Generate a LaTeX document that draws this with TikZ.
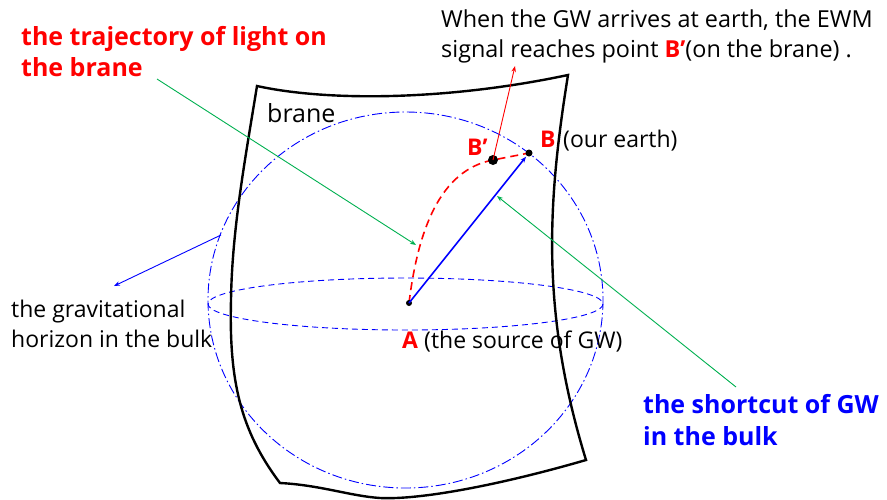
\documentclass[tikz,border=0pt]{standalone}
\usepackage{fontspec}
\setmainfont{Open Sans}
\usetikzlibrary{arrows.meta}
\definecolor{pgreen}{RGB}{0,176,80}
\definecolor{pblue}{RGB}{0,0,255}
\definecolor{pred}{RGB}{255,0,0}
\tikzset{
  txt/.style={inner sep=0pt, anchor=base west, font=\fontsize{23}{30}\selectfont},
  redtitle/.style={inner sep=0pt, anchor=base west, align=left, text=pred, font=\fontsize{25}{31}\selectfont\bfseries},
  bluetitle/.style={inner sep=0pt, anchor=base west, align=left, text=pblue, font=\fontsize{25}{32}\selectfont\bfseries},
  lbl/.style={inner sep=0pt, anchor=base west, text=pred, font=\fontsize{23}{30}\selectfont\bfseries},
  tip/.style={-{Stealth[length=6pt,width=4.5pt]}},
  dot/.style={circle, fill=black, inner sep=0pt, minimum size=#1},
}
\begin{document}
\begin{tikzpicture}[x=1pt,y=-1pt]
\useasboundingbox (0,0) rectangle (887,499);
% horizon sphere
\draw[pblue, line width=0.9pt, dash pattern=on 10pt off 3pt on 1.5pt off 3pt] (405.5,300) ellipse [x radius=197.5, y radius=188];
\draw[pblue, line width=0.9pt, dash pattern=on 6pt off 4pt] (405.5,304) ellipse [x radius=197.5, y radius=26];
% brane
\draw[black, line width=2.4pt, line join=miter]
  (257,86) .. controls (330,102) and (450,100) .. (568,75)
  .. controls (548,200) and (540,310) .. (586,460)
  .. controls (500,485) and (420,500) .. (380,498)
  .. controls (350,496) and (320,485) .. (280,483)
  .. controls (240,430) and (229,380) .. (231,300)
  .. controls (232,230) and (245,160) .. cycle;
\node[txt, font=\fontsize{25}{30}\selectfont] (brane) at (267,122) {brane};
% point positions
\coordinate (Apos) at (409,303);
\coordinate (Bpos) at (529,153);
\coordinate (Bppos) at (493,160);
% red light trajectory
\draw[pred, line width=1.6pt, dash pattern=on 8pt off 5pt] (Apos) .. controls (418,230) and (440,170) .. (Bppos) -- (Bpos);
% dots
\node[dot=6pt] (A) at (Apos) {};
\node[dot=7pt] (B) at (Bpos) {};
\node[dot=10pt] (Bp) at (Bppos) {};
% GW shortcut
\draw[pblue, line width=1.6pt, tip, shorten >=1pt] (A.center) -- (B);
% labels
\node[lbl] (Blab) at (540,147) {B};
\node[txt] (earth) at (563,147) {(our earth)};
\node[lbl] (Bplab) at (467,155) {B’};
\node[lbl] (Alab) at (402,348) {A};
\node[txt] (source) at (424,348) {(the source of GW)};
\node[txt, align=left, font=\fontsize{23.4}{30}\selectfont] (note) at (441,57) {When the GW arrives at earth, the EWM\\signal reaches point \textcolor{pred}{\bfseries B’}(on the brane) .};
\node[txt, align=left] (horizon) at (11,347) {the gravitational\\horizon in the bulk};
\node[redtitle] (light) at (21,76) {the trajectory of light on\\the brane};
\node[bluetitle] (shortcut) at (643,445) {the shortcut of GW\\in the bulk};
% pointers
\coordinate (noteend) at (515,66);
\draw[pred, line width=0.9pt, tip] (Bp.center) -- (noteend);
\coordinate (lightstart) at (157,79);
\coordinate (lighttip) at (416,245);
\draw[pgreen, line width=0.9pt, tip] (lightstart) -- (lighttip);
\coordinate (shortstart) at (736,387);
\coordinate (shorttip) at (497,196);
\draw[pgreen, line width=0.9pt, tip] (shortstart) -- (shorttip);
\coordinate (horstart) at (221,235);
\coordinate (hortip) at (114,286);
\draw[pblue, line width=0.9pt, tip] (horstart) -- (hortip);
\end{tikzpicture}
\end{document}
